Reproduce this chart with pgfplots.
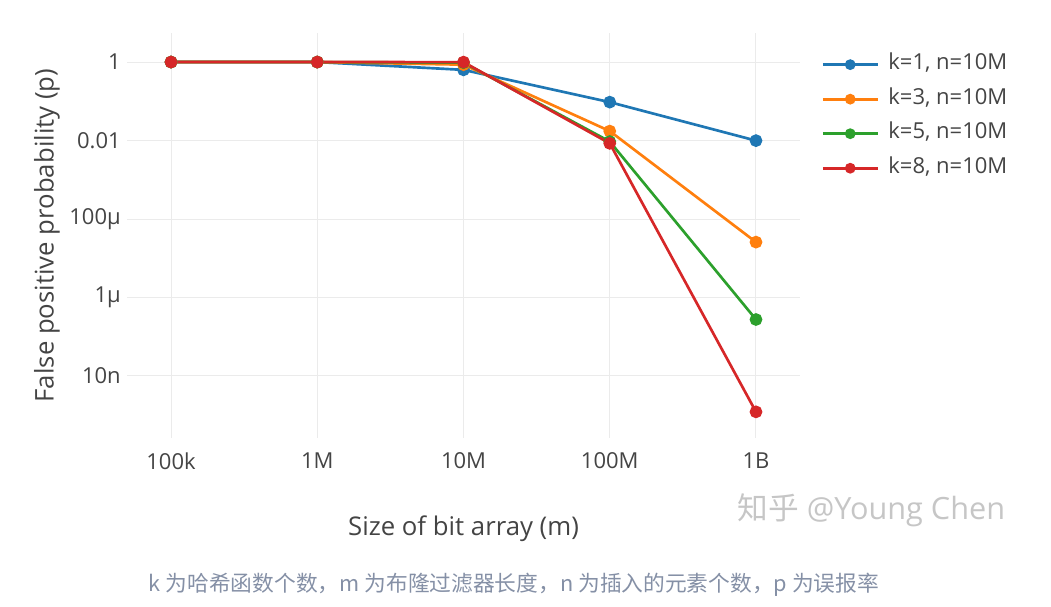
\documentclass[border=0pt]{standalone}
\usepackage{pgfplots}
\pgfplotsset{compat=1.18}
\usepackage{fontspec}
\setmainfont{Open Sans}
\newfontfamily\cjk{Noto Sans CJK SC}
\definecolor{c1}{HTML}{1F77B4}
\definecolor{c2}{HTML}{FF7F0E}
\definecolor{c3}{HTML}{2CA02C}
\definecolor{c4}{HTML}{D62728}
\definecolor{txt}{HTML}{444444}
\definecolor{gridc}{HTML}{EBEBEB}
\definecolor{capc}{HTML}{8590A6}
\definecolor{wm}{HTML}{C6C6C6}
\begin{document}
\begin{tikzpicture}
\path[use as bounding box] (0,0) rectangle (788.25pt,455.25pt);
\begin{axis}[
  at={(95.25pt,126.75pt)}, anchor=south west,
  scale only axis, width=504.75pt, height=303.75pt,
  xmode=log, ymode=log,
  xmin=5.0e4, xmax=2.0e9,
  ymin=2.63e-10, ymax=5.5,
  axis line style={draw=none},
  major tick length=0pt, minor tick length=0pt,
  xminorticks=false, yminorticks=false,
  grid=major, major grid style={gridc, line width=0.75pt},
  xtick={1e5,1e6,1e7,1e8,1e9},
  xticklabels={100k,1M,10M,100M,1B},
  ytick={1,1e-2,1e-4,1e-6,1e-8},
  yticklabels={1,0.01,100µ,1µ,10n},
  tick label style={font=\fontsize{16.5}{19}\selectfont, text=txt},
  xticklabel style={anchor=north, inner sep=0pt, yshift=-11pt},
  yticklabel style={anchor=east, inner sep=0pt, xshift=-4.5pt},
  xlabel={Size of bit array (m)},
  ylabel={False positive probability (p)},
  label style={font=\fontsize{19.3}{23}\selectfont, text=txt},
  xlabel style={at={(axis description cs:0.5,0)}, anchor=center, yshift=-68pt},
  ylabel style={at={(axis description cs:0,0.5)}, anchor=center, yshift=60pt},
  every axis plot/.append style={line width=2pt, mark=*, mark size=3.75pt},
  legend cell align=left,
  legend image code/.code={\draw[line width=2pt, mark repeat=2,mark phase=2,mark size=3pt] plot coordinates {(0pt,0pt) (20.6pt,0pt) (41.2pt,0pt)};},
  legend style={draw=none, fill=none, at={(axis description cs:1.0255,0.953)}, anchor=north west,
    font=\fontsize{16.5}{19}\selectfont, text=txt,
    nodes={inner sep=0pt, text height=11pt, text depth=3.5pt},
    row sep=11.4pt, column sep=7pt},
]
\addplot[c1, mark options={fill=c1}] coordinates {(1e5,1) (1e6,0.99995) (1e7,0.632) (1e8,0.0952) (1e9,0.00995)};
\addlegendentry{k=1, n=10M}
\addplot[c2, mark options={fill=c2}] coordinates {(1e5,1) (1e6,0.99986) (1e7,0.858) (1e8,0.01741) (1e9,2.58e-5)};
\addlegendentry{k=3, n=10M}
\addplot[c3, mark options={fill=c3}] coordinates {(1e5,1) (1e6,1) (1e7,0.967) (1e8,0.00943) (1e9,2.75e-7)};
\addlegendentry{k=5, n=10M}
\addplot[c4, mark options={fill=c4}] coordinates {(1e5,1) (1e6,1) (1e7,0.9973) (1e8,0.00848) (1e9,1.22e-9)};
\addlegendentry{k=8, n=10M}
\end{axis}
\node[text=wm, font=\fontsize{23}{27}\selectfont] at (653.5pt,72.75pt) {{\cjk 知乎} @Young Chen};
\node[text=capc, font=\cjk\fontsize{16.3}{19}\selectfont] at (385.5pt,16.5pt) {k 为哈希函数个数，m 为布隆过滤器长度，n 为插入的元素个数，p 为误报率};
\end{tikzpicture}
\end{document}
